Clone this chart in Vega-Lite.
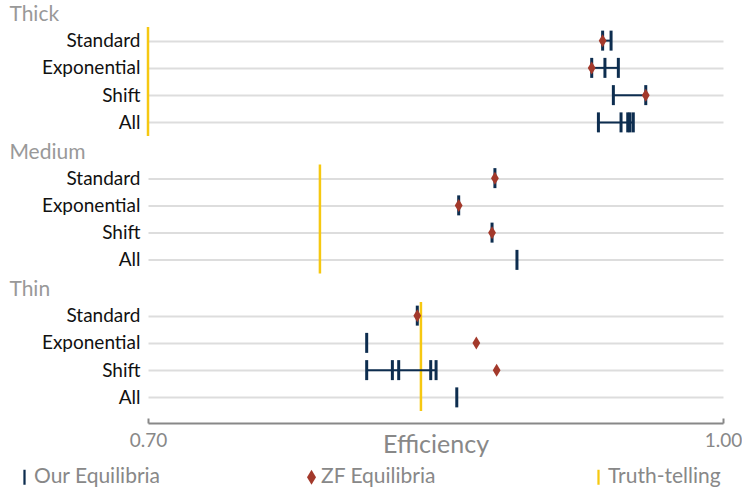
{
  "$schema": "https://vega.github.io/schema/vega-lite/v6.json",
  "padding": {"left": 9, "top": 4, "right": 0, "bottom": 0},
  "spacing": 3.5,
  "data": {"values": [
    {"panel": "Thick", "cat": "Standard", "series": "Our Equilibria", "value": 0.9372},
    {"panel": "Thick", "cat": "Standard", "series": "Our Equilibria", "value": 0.9416},
    {"panel": "Thick", "cat": "Standard", "series": "ZF Equilibria", "value": 0.9372},
    {"panel": "Thick", "cat": "Exponential", "series": "Our Equilibria", "value": 0.9315},
    {"panel": "Thick", "cat": "Exponential", "series": "Our Equilibria", "value": 0.9384},
    {"panel": "Thick", "cat": "Exponential", "series": "Our Equilibria", "value": 0.9454},
    {"panel": "Thick", "cat": "Exponential", "series": "ZF Equilibria", "value": 0.9315},
    {"panel": "Thick", "cat": "Shift", "series": "Our Equilibria", "value": 0.9428},
    {"panel": "Thick", "cat": "Shift", "series": "Our Equilibria", "value": 0.9597},
    {"panel": "Thick", "cat": "Shift", "series": "ZF Equilibria", "value": 0.9597},
    {"panel": "Thick", "cat": "All", "series": "Our Equilibria", "value": 0.935},
    {"panel": "Thick", "cat": "All", "series": "Our Equilibria", "value": 0.9468},
    {"panel": "Thick", "cat": "All", "series": "Our Equilibria", "value": 0.9503},
    {"panel": "Thick", "cat": "All", "series": "Our Equilibria", "value": 0.9515},
    {"panel": "Thick", "cat": "All", "series": "Our Equilibria", "value": 0.9532},
    {"panel": "Thick", "cat": null, "series": "Truth-telling", "value": 0.7},
    {"panel": "Medium", "cat": "Standard", "series": "Our Equilibria", "value": 0.881},
    {"panel": "Medium", "cat": "Standard", "series": "ZF Equilibria", "value": 0.881},
    {"panel": "Medium", "cat": "Exponential", "series": "Our Equilibria", "value": 0.8621},
    {"panel": "Medium", "cat": "Exponential", "series": "ZF Equilibria", "value": 0.8621},
    {"panel": "Medium", "cat": "Shift", "series": "Our Equilibria", "value": 0.8795},
    {"panel": "Medium", "cat": "Shift", "series": "ZF Equilibria", "value": 0.8795},
    {"panel": "Medium", "cat": "All", "series": "Our Equilibria", "value": 0.8925},
    {"panel": "Medium", "cat": null, "series": "Truth-telling", "value": 0.7897},
    {"panel": "Thin", "cat": "Standard", "series": "Our Equilibria", "value": 0.8405},
    {"panel": "Thin", "cat": "Standard", "series": "ZF Equilibria", "value": 0.8405},
    {"panel": "Thin", "cat": "Exponential", "series": "Our Equilibria", "value": 0.8141},
    {"panel": "Thin", "cat": "Exponential", "series": "ZF Equilibria", "value": 0.8713},
    {"panel": "Thin", "cat": "Shift", "series": "Our Equilibria", "value": 0.8141},
    {"panel": "Thin", "cat": "Shift", "series": "Our Equilibria", "value": 0.8275},
    {"panel": "Thin", "cat": "Shift", "series": "Our Equilibria", "value": 0.8308},
    {"panel": "Thin", "cat": "Shift", "series": "Our Equilibria", "value": 0.8475},
    {"panel": "Thin", "cat": "Shift", "series": "Our Equilibria", "value": 0.8503},
    {"panel": "Thin", "cat": "Shift", "series": "ZF Equilibria", "value": 0.8819},
    {"panel": "Thin", "cat": "All", "series": "Our Equilibria", "value": 0.8611},
    {"panel": "Thin", "cat": null, "series": "Truth-telling", "value": 0.8424}
  ]},
  "config": {
    "font": "Lato",
    "view": {"stroke": null},
    "title": {"anchor": "start", "fontSize": 21, "color": "#999999", "fontWeight": "normal", "offset": 0.5, "dx": -32, "font": "Lato"},
    "axisY": {"title": null, "domain": false, "ticks": false, "labelFontSize": 19, "labelColor": "#111111", "labelPadding": 8, "grid": true, "gridColor": "#dddddd", "gridWidth": 2, "labelFont": "Lato"},
    "legend": {"orient": "none", "legendX": -134, "legendY": 439.5, "direction": "horizontal", "columns": 3, "gridAlign": "all", "columnPadding": 140, "title": null, "labelFontSize": 21, "labelColor": "#888888", "labelFont": "Lato", "symbolSize": 225, "symbolStrokeWidth": 0, "labelOffset": -1, "padding": 0}
  },
  "vconcat": [
    {
      "title": {"text": "Thick"},
      "width": 575, "height": 109,
      "transform": [{"filter": "datum.panel === 'Thick'"}],
      "layer": [
        {"transform": [{"filter": "datum.series === 'Truth-telling'"}], "mark": {"type": "rule", "color": "#f6c811", "strokeWidth": 2.5},
         "encoding": {"x": {"field": "value", "type": "quantitative", "scale": {"domain": [0.7, 1.0], "nice": false}, "axis": null}}},
        {"transform": [{"filter": "datum.series === 'Our Equilibria'"}], "mark": {"type": "rule", "color": "#0d2d4f", "strokeWidth": 2},
         "encoding": {"y": {"field": "cat", "type": "nominal", "sort": ["Standard", "Exponential", "Shift", "All"], "scale": {"type": "point", "padding": 0.5}},
           "x": {"aggregate": "min", "field": "value", "type": "quantitative"}, "x2": {"aggregate": "max", "field": "value"}}},
        {"transform": [{"filter": "datum.series === 'Our Equilibria'"}], "mark": {"type": "point", "filled": true, "opacity": 1, "size": 400},
         "encoding": {"y": {"field": "cat", "type": "nominal", "sort": ["Standard", "Exponential", "Shift", "All"]},
           "x": {"field": "value", "type": "quantitative"},
           "color": {"field": "series", "type": "nominal", "scale": {"domain": ["Our Equilibria", "ZF Equilibria", "Truth-telling"], "range": ["#0d2d4f", "#a3392b", "#f6c811"]}},
           "shape": {"field": "series", "type": "nominal", "scale": {"domain": ["Our Equilibria", "ZF Equilibria", "Truth-telling"], "range": ["M-0.15,-1H0.15V1H-0.15Z", "M0,-1L0.6,0L0,1L-0.6,0Z", "M-0.15,-1H0.15V1H-0.15Z"]}}}},
        {"transform": [{"filter": "datum.series === 'ZF Equilibria'"}], "mark": {"type": "point", "filled": true, "opacity": 1, "size": 169},
         "encoding": {"y": {"field": "cat", "type": "nominal", "sort": ["Standard", "Exponential", "Shift", "All"]},
           "x": {"field": "value", "type": "quantitative"},
           "color": {"field": "series", "type": "nominal"},
           "shape": {"field": "series", "type": "nominal"}}}
      ]
    },
    {
      "title": {"text": "Medium"},
      "width": 575, "height": 109,
      "transform": [{"filter": "datum.panel === 'Medium'"}],
      "layer": [
        {"transform": [{"filter": "datum.series === 'Truth-telling'"}], "mark": {"type": "rule", "color": "#f6c811", "strokeWidth": 2.5},
         "encoding": {"x": {"field": "value", "type": "quantitative", "scale": {"domain": [0.7, 1.0], "nice": false}, "axis": null}}},
        {"transform": [{"filter": "datum.series === 'Our Equilibria'"}], "mark": {"type": "rule", "color": "#0d2d4f", "strokeWidth": 2},
         "encoding": {"y": {"field": "cat", "type": "nominal", "sort": ["Standard", "Exponential", "Shift", "All"], "scale": {"type": "point", "padding": 0.5}},
           "x": {"aggregate": "min", "field": "value", "type": "quantitative"}, "x2": {"aggregate": "max", "field": "value"}}},
        {"transform": [{"filter": "datum.series === 'Our Equilibria'"}], "mark": {"type": "point", "filled": true, "opacity": 1, "size": 400},
         "encoding": {"y": {"field": "cat", "type": "nominal", "sort": ["Standard", "Exponential", "Shift", "All"]},
           "x": {"field": "value", "type": "quantitative"},
           "color": {"field": "series", "type": "nominal", "scale": {"domain": ["Our Equilibria", "ZF Equilibria", "Truth-telling"], "range": ["#0d2d4f", "#a3392b", "#f6c811"]}},
           "shape": {"field": "series", "type": "nominal", "scale": {"domain": ["Our Equilibria", "ZF Equilibria", "Truth-telling"], "range": ["M-0.15,-1H0.15V1H-0.15Z", "M0,-1L0.6,0L0,1L-0.6,0Z", "M-0.15,-1H0.15V1H-0.15Z"]}}}},
        {"transform": [{"filter": "datum.series === 'ZF Equilibria'"}], "mark": {"type": "point", "filled": true, "opacity": 1, "size": 169},
         "encoding": {"y": {"field": "cat", "type": "nominal", "sort": ["Standard", "Exponential", "Shift", "All"]},
           "x": {"field": "value", "type": "quantitative"},
           "color": {"field": "series", "type": "nominal"},
           "shape": {"field": "series", "type": "nominal"}}}
      ]
    },
    {
      "title": {"text": "Thin"},
      "width": 575, "height": 109,
      "transform": [{"filter": "datum.panel === 'Thin'"}],
      "layer": [
        {"transform": [{"filter": "datum.series === 'Truth-telling'"}], "mark": {"type": "rule", "color": "#f6c811", "strokeWidth": 2.5},
         "encoding": {"x": {"field": "value", "type": "quantitative", "scale": {"domain": [0.7, 1.0], "nice": false},
           "axis": {"title": "Efficiency", "values": [0.7, 1.0], "format": ".2f", "grid": false, "labelFlush": false, "labelOverlap": false, "domainColor": "#888888", "domainWidth": 2, "tickColor": "#888888", "tickWidth": 2, "tickSize": -5, "offset": 12, "labelFontSize": 19, "labelColor": "#888888", "labelPadding": 13, "titleFontSize": 25, "titleColor": "#888888", "titleFontWeight": "normal", "titlePadding": -18, "labelFont": "Lato", "titleFont": "Lato"}}}},
        {"transform": [{"filter": "datum.series === 'Our Equilibria'"}], "mark": {"type": "rule", "color": "#0d2d4f", "strokeWidth": 2},
         "encoding": {"y": {"field": "cat", "type": "nominal", "sort": ["Standard", "Exponential", "Shift", "All"], "scale": {"type": "point", "padding": 0.5}},
           "x": {"aggregate": "min", "field": "value", "type": "quantitative"}, "x2": {"aggregate": "max", "field": "value"}}},
        {"transform": [{"filter": "datum.series === 'Our Equilibria'"}], "mark": {"type": "point", "filled": true, "opacity": 1, "size": 400},
         "encoding": {"y": {"field": "cat", "type": "nominal", "sort": ["Standard", "Exponential", "Shift", "All"]},
           "x": {"field": "value", "type": "quantitative"},
           "color": {"field": "series", "type": "nominal", "scale": {"domain": ["Our Equilibria", "ZF Equilibria", "Truth-telling"], "range": ["#0d2d4f", "#a3392b", "#f6c811"]}},
           "shape": {"field": "series", "type": "nominal", "scale": {"domain": ["Our Equilibria", "ZF Equilibria", "Truth-telling"], "range": ["M-0.15,-1H0.15V1H-0.15Z", "M0,-1L0.6,0L0,1L-0.6,0Z", "M-0.15,-1H0.15V1H-0.15Z"]}}}},
        {"transform": [{"filter": "datum.series === 'ZF Equilibria'"}], "mark": {"type": "point", "filled": true, "opacity": 1, "size": 169},
         "encoding": {"y": {"field": "cat", "type": "nominal", "sort": ["Standard", "Exponential", "Shift", "All"]},
           "x": {"field": "value", "type": "quantitative"},
           "color": {"field": "series", "type": "nominal"},
           "shape": {"field": "series", "type": "nominal"}}}
      ]
    }
  ]
}
